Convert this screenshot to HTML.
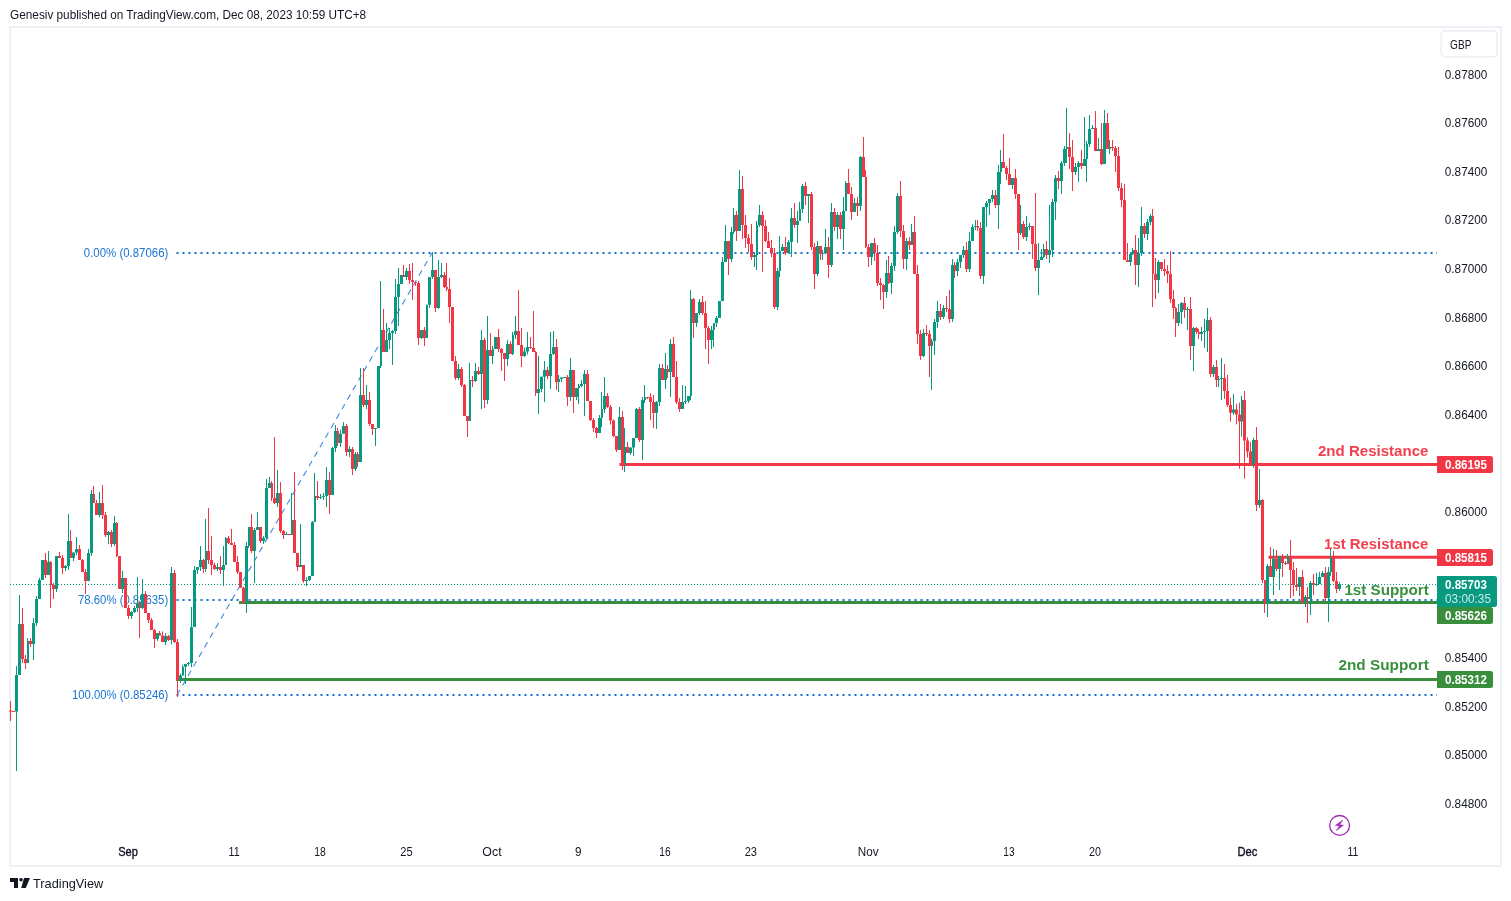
<!DOCTYPE html>
<html><head><meta charset="utf-8"><title>GBP chart</title>
<style>
html,body{margin:0;padding:0;background:#fff;}
body{width:1511px;height:901px;overflow:hidden;position:relative;font-family:"Liberation Sans",sans-serif;}
svg{position:absolute;left:0;top:0;will-change:transform;}
text{font-family:"Liberation Sans",sans-serif;}
.ax{font-size:13px;fill:#131722;}
.tm{font-size:12.8px;fill:#131722;text-anchor:middle;}
.fib{font-size:13px;fill:#1976d2;}
.lab{font-size:15px;font-weight:bold;text-anchor:end;}
.pl{font-size:12.7px;font-weight:bold;fill:#fff;}
</style></head><body>
<svg width="1511" height="901" viewBox="0 0 1511 901">
<rect x="0" y="0" width="1511" height="901" fill="#ffffff"/>
<!-- frame -->
<rect x="10" y="27" width="1491" height="839" fill="none" stroke="#eef0f5" stroke-width="2"/>
<text x="10.1" y="19" font-size="13" fill="#131722" textLength="356" lengthAdjust="spacingAndGlyphs">Genesiv published on TradingView.com, Dec 08, 2023 10:59 UTC+8</text>

<!-- currency box -->
<rect x="1441.2" y="30.9" width="55.8" height="25.9" rx="4" fill="#fff" stroke="#eceef4" stroke-width="1.6"/>
<text x="1450.1" y="48.8" font-size="12.6" fill="#131722" textLength="21.3" lengthAdjust="spacingAndGlyphs">GBP</text>

<!-- price axis -->
<g class="ax">
<text x="1444.8" y="78.5" textLength="42.5" lengthAdjust="spacingAndGlyphs">0.87800</text>
<text x="1444.8" y="127.1" textLength="42.5" lengthAdjust="spacingAndGlyphs">0.87600</text>
<text x="1444.8" y="175.7" textLength="42.5" lengthAdjust="spacingAndGlyphs">0.87400</text>
<text x="1444.8" y="224.4" textLength="42.5" lengthAdjust="spacingAndGlyphs">0.87200</text>
<text x="1444.8" y="273.0" textLength="42.5" lengthAdjust="spacingAndGlyphs">0.87000</text>
<text x="1444.8" y="321.7" textLength="42.5" lengthAdjust="spacingAndGlyphs">0.86800</text>
<text x="1444.8" y="370.3" textLength="42.5" lengthAdjust="spacingAndGlyphs">0.86600</text>
<text x="1444.8" y="418.9" textLength="42.5" lengthAdjust="spacingAndGlyphs">0.86400</text>
<text x="1444.8" y="516.2" textLength="42.5" lengthAdjust="spacingAndGlyphs">0.86000</text>
<text x="1444.8" y="662.1" textLength="42.5" lengthAdjust="spacingAndGlyphs">0.85400</text>
<text x="1444.8" y="710.8" textLength="42.5" lengthAdjust="spacingAndGlyphs">0.85200</text>
<text x="1444.8" y="759.4" textLength="42.5" lengthAdjust="spacingAndGlyphs">0.85000</text>
<text x="1444.8" y="808.1" textLength="42.5" lengthAdjust="spacingAndGlyphs">0.84800</text>
</g>

<!-- time axis -->
<g class="tm">
<text x="128" y="856.1" textLength="19.7" lengthAdjust="spacingAndGlyphs" stroke="#131722" stroke-width="0.4">Sep</text>
<text x="234.1" y="856.1" textLength="11.1" lengthAdjust="spacingAndGlyphs">11</text>
<text x="320.1" y="856.1" textLength="11.6" lengthAdjust="spacingAndGlyphs">18</text>
<text x="406.5" y="856.1" textLength="12.3" lengthAdjust="spacingAndGlyphs">25</text>
<text x="492" y="856.1" textLength="19.3" lengthAdjust="spacingAndGlyphs">Oct</text>
<text x="578.3" y="856.1" textLength="6.5" lengthAdjust="spacingAndGlyphs">9</text>
<text x="664.9" y="856.1" textLength="11.3" lengthAdjust="spacingAndGlyphs">16</text>
<text x="750.8" y="856.1" textLength="12.3" lengthAdjust="spacingAndGlyphs">23</text>
<text x="868.3" y="856.1" textLength="20.9" lengthAdjust="spacingAndGlyphs">Nov</text>
<text x="1009" y="856.1" textLength="11.3" lengthAdjust="spacingAndGlyphs">13</text>
<text x="1095.1" y="856.1" textLength="12.0" lengthAdjust="spacingAndGlyphs">20</text>
<text x="1247.4" y="856.1" textLength="19.9" lengthAdjust="spacingAndGlyphs" stroke="#131722" stroke-width="0.4">Dec</text>
<text x="1353" y="856.1" textLength="10.9" lengthAdjust="spacingAndGlyphs">11</text>
</g>

<!-- fib lines -->
<g stroke="#1570d4" stroke-width="2" stroke-dasharray="2 4" fill="none">
<path d="M176.5 253H1437"/>
<path d="M176.5 600H1437"/>
<path d="M176.5 695H1437"/>
</g>
<path d="M177 695L432 253" stroke="#3f88de" stroke-width="1.1" stroke-dasharray="6 5" fill="none"/>
<g class="fib">
<text x="83.8" y="257.1" textLength="84.5" lengthAdjust="spacingAndGlyphs">0.00% (0.87066)</text>
<text x="78" y="604.2" textLength="90.2" lengthAdjust="spacingAndGlyphs">78.60% (0.85635)</text>
<text x="72" y="699.1" textLength="96.3" lengthAdjust="spacingAndGlyphs">100.00% (0.85246)</text>
</g>

<!-- S/R lines -->
<path d="M619.5 464.5H1437" stroke="#f23645" stroke-width="3"/>
<path d="M1268.5 557.2H1437" stroke="#f23645" stroke-width="3"/>
<path d="M239 602.5H1437" stroke="#388e3c" stroke-width="3"/>
<path d="M176 679.5H1437" stroke="#388e3c" stroke-width="3"/>

<g class="lab">
<text x="1428.4" y="455.8" fill="#f23f4e" textLength="110.4" lengthAdjust="spacingAndGlyphs">2nd Resistance</text>
<text x="1428.4" y="548.9" fill="#f23f4e" textLength="104.3" lengthAdjust="spacingAndGlyphs">1st Resistance</text>
<text x="1428.8" y="594.9" fill="#3a903e" textLength="84.4" lengthAdjust="spacingAndGlyphs">1st Support</text>
<text x="1428.8" y="670.4" fill="#3a903e" textLength="90.4" lengthAdjust="spacingAndGlyphs">2nd Support</text>
</g>

<!-- candles -->
<path d="M16.5 666.0V771.0M19.5 595.0V675.0M27.5 638.0V663.0M33.5 618.0V660.0M36.5 596.0V626.0M39.5 578.0V599.0M42.5 560.0V580.0M48.5 551.0V575.0M56.5 556.0V592.0M65.5 565.0V571.0M68.5 514.0V570.0M73.5 552.4V561.0M76.5 537.0V555.4M88.5 549.0V581.0M91.5 490.0V556.0M99.5 492.0V517.0M108.5 531.0V544.0M114.5 516.0V546.0M122.5 571.0V593.0M131.5 611.0V619.0M134.5 606.0V613.0M137.5 577.0V612.0M142.5 579.0V609.0M157.5 633.0V641.0M165.5 633.0V645.0M171.5 567.0V644.0M180.5 673.6V683.0M182.5 664.8V675.6M185.5 664.0V684.0M188.5 662.0V666.0M191.5 607.0V667.0M194.5 566.0V627.0M197.5 567.0V574.0M200.5 546.0V571.0M205.5 519.0V572.0M217.5 563.0V571.0M223.5 546.0V586.0M225.5 537.0V565.0M246.5 542.0V613.0M248.5 527.0V548.0M254.5 528.0V583.0M257.5 512.0V530.0M263.5 536.0V544.0M266.5 479.0V539.0M269.5 477.0V488.0M277.5 470.0V507.0M286.5 532.0V535.0M291.5 493.0V535.0M300.5 524.0V567.0M306.5 577.0V586.0M309.5 576.0V581.0M312.5 521.0V576.0M314.5 473.0V522.0M320.5 494.0V499.0M323.5 493.0V500.0M326.5 467.0V507.0M332.5 447.0V495.0M335.5 425.0V452.0M340.5 429.7V447.0M343.5 422.0V433.7M349.5 446.0V457.0M355.5 452.0V471.0M360.5 368.0V462.0M366.5 385.0V409.0M375.5 428.0V446.0M378.5 366.0V428.0M380.5 281.0V368.0M386.5 323.0V352.0M389.5 328.0V349.0M392.5 330.0V365.0M395.5 279.0V334.0M398.5 268.0V326.0M401.5 275.0V284.0M406.5 268.0V280.0M421.5 330.0V339.0M426.5 304.8V338.0M429.5 277.0V307.8M432.5 252.0V279.0M438.5 260.0V309.0M441.5 263.0V278.0M458.5 364.0V380.0M469.5 363.0V421.0M475.5 363.0V382.0M481.5 330.0V409.0M487.5 316.0V404.0M492.5 346.0V364.0M495.5 337.0V349.0M507.5 340.0V366.0M512.5 332.0V355.0M515.5 316.0V339.0M524.5 347.5V357.0M527.5 332.0V354.5M538.5 356.0V414.0M541.5 376.7V392.0M544.5 361.0V402.0M550.5 332.0V389.0M553.5 331.0V355.0M558.5 375.0V392.0M561.5 377.6V382.0M564.5 377.0V377.6M570.5 358.0V401.0M576.5 388.0V400.0M578.5 384.0V404.0M581.5 380.0V387.0M584.5 370.0V416.0M599.5 415.0V433.0M601.5 392.0V427.0M604.5 377.0V413.0M619.5 407.0V450.0M624.5 428.0V472.0M630.5 447.5V455.0M633.5 438.0V456.0M636.5 408.0V438.0M642.5 397.0V460.0M644.5 385.0V403.0M656.5 401.0V429.0M659.5 364.0V406.0M665.5 353.0V389.0M670.5 339.0V397.0M682.5 385.0V409.0M685.5 386.0V404.0M688.5 396.0V403.0M690.5 290.0V400.0M696.5 313.0V327.0M699.5 299.0V315.0M711.5 326.0V349.0M713.5 323.0V347.0M716.5 316.0V327.0M719.5 301.0V318.0M722.5 257.0V301.0M725.5 225.0V262.0M731.5 227.0V262.0M733.5 208.0V234.0M739.5 170.0V231.0M754.5 252.0V267.0M756.5 221.0V270.0M759.5 205.0V227.0M777.5 268.0V310.0M779.5 236.0V277.0M782.5 244.0V251.0M788.5 240.0V253.0M791.5 208.0V257.0M797.5 211.0V243.0M799.5 202.0V221.0M802.5 184.0V213.0M808.5 194.0V223.0M817.5 241.0V276.0M822.5 250.0V260.0M825.5 229.0V253.0M831.5 203.0V267.0M837.5 212.0V239.0M843.5 197.0V250.0M845.5 181.0V211.0M854.5 198.0V212.0M860.5 156.0V211.0M871.5 243.0V265.0M886.5 260.0V298.0M891.5 263.0V294.0M894.5 226.0V271.0M897.5 193.0V234.0M906.5 238.0V270.0M911.5 224.0V245.0M923.5 329.0V357.0M931.5 339.0V390.0M934.5 319.0V355.0M937.5 301.0V328.0M943.5 305.0V319.0M952.5 259.0V322.0M957.5 259.0V276.0M960.5 255.0V268.0M963.5 246.0V258.0M969.5 232.0V272.0M972.5 224.0V241.0M975.5 220.0V230.0M983.5 207.0V284.0M986.5 201.0V227.0M989.5 199.0V215.0M992.5 190.0V202.0M998.5 165.0V229.0M1000.5 150.0V184.0M1012.5 178.0V189.0M1020.5 205.0V235.0M1026.5 216.0V241.0M1029.5 223.0V230.0M1038.5 243.0V295.0M1041.5 249.0V260.0M1043.5 244.0V258.0M1049.5 205.0V263.0M1052.5 199.0V257.0M1055.5 175.0V220.0M1061.5 161.0V194.0M1064.5 146.0V166.0M1066.5 108.0V163.0M1075.5 163.0V175.0M1078.5 161.0V182.0M1084.5 117.0V166.0M1086.5 141.0V182.0M1089.5 115.0V147.0M1092.5 125.0V129.0M1098.5 138.0V151.0M1104.5 110.0V164.0M1109.5 140.0V154.0M1130.5 252.0V266.0M1132.5 248.0V255.0M1138.5 238.0V287.0M1141.5 207.0V256.0M1147.5 219.0V240.0M1150.5 214.0V225.0M1158.5 260.0V293.0M1178.5 304.0V326.0M1181.5 302.0V324.0M1187.5 307.0V330.0M1193.5 327.0V371.0M1201.5 327.0V341.0M1204.5 319.0V348.0M1207.5 308.0V352.0M1213.5 365.0V377.0M1218.5 376.0V387.0M1221.5 358.0V400.0M1233.5 393.9V415.0M1241.5 396.0V436.6M1253.5 437.7V467.7M1259.5 469.0V508.0M1267.5 564.0V617.0M1273.5 549.0V595.0M1279.5 556.0V590.0M1287.5 554.0V564.0M1299.5 577.0V596.0M1305.5 595.0V607.0M1310.5 581.0V615.0M1316.5 573.0V586.0M1319.5 572.0V584.0M1322.5 571.0V577.0M1328.5 567.0V622.0M1330.5 549.0V576.0M1339.5 582.0V591.0" stroke="#089981" stroke-width="1" fill="none"/>
<path d="M10.5 701.0V721.0M13.5 711.0V712.0M22.5 608.0V663.0M25.5 655.0V669.0M30.5 638.0V647.0M45.5 553.0V578.0M50.5 561.0V608.0M53.5 583.0V599.0M59.5 552.0V558.0M62.5 555.0V574.0M70.5 530.0V558.0M79.5 545.0V560.0M82.5 559.0V572.0M85.5 569.0V594.0M93.5 486.0V503.0M96.5 500.0V515.0M102.5 485.0V519.0M105.5 512.0V537.0M111.5 530.0V547.0M116.5 522.0V557.0M119.5 556.0V589.0M125.5 578.0V608.0M128.5 605.0V619.0M139.5 601.0V638.0M145.5 591.0V613.0M148.5 613.0V623.0M151.5 618.0V630.0M154.5 629.0V648.0M159.5 631.0V635.4M162.5 631.4V642.0M168.5 635.0V641.0M174.5 570.0V643.0M177.5 639.0V697.0M203.5 559.0V573.0M208.5 508.0V564.0M211.5 536.0V575.0M214.5 563.0V570.0M220.5 556.0V574.0M228.5 536.0V544.0M231.5 529.0V545.0M234.5 542.0V562.0M237.5 556.0V574.0M240.5 572.0V587.7M243.5 586.7V603.0M251.5 514.0V553.0M260.5 527.0V543.0M271.5 481.0V501.0M274.5 437.0V504.0M280.5 482.0V533.0M283.5 530.0V539.0M289.5 534.0V535.0M294.5 472.0V553.0M297.5 553.0V571.0M303.5 565.0V583.0M317.5 481.0V500.0M329.5 472.0V514.0M337.5 428.0V446.0M346.5 424.0V456.0M352.5 447.0V475.0M357.5 452.0V467.0M363.5 368.0V407.0M369.5 392.0V426.0M372.5 424.0V435.0M383.5 309.0V352.0M403.5 265.0V277.0M409.5 264.0V284.0M412.5 263.0V300.0M415.5 282.0V286.0M418.5 281.0V345.0M424.5 327.0V346.0M435.5 270.0V312.0M444.5 272.0V288.0M446.5 263.0V291.0M449.5 278.0V323.0M452.5 307.0V361.0M455.5 356.0V380.0M461.5 367.0V387.0M464.5 384.0V416.0M467.5 416.0V437.0M472.5 376.0V387.0M478.5 367.0V375.0M484.5 338.0V408.0M490.5 333.0V356.0M498.5 329.0V352.0M501.5 348.0V371.0M504.5 353.0V381.0M510.5 341.0V354.0M518.5 290.0V345.0M521.5 328.0V367.0M530.5 337.0V349.0M533.5 311.0V352.0M535.5 351.0V396.0M547.5 367.0V379.0M556.5 339.0V390.0M567.5 375.0V406.0M573.5 370.0V413.0M587.5 370.0V401.0M590.5 401.0V421.0M593.5 418.0V432.0M596.5 427.0V438.0M607.5 393.0V407.9M610.5 404.9V424.5M613.5 419.5V437.0M616.5 436.0V452.0M622.5 411.0V470.0M627.5 442.0V453.0M639.5 407.0V442.0M647.5 397.0V399.2M650.5 393.2V420.0M653.5 395.0V428.0M662.5 364.0V380.0M667.5 365.0V378.0M673.5 337.0V377.0M676.5 361.0V404.0M679.5 398.0V412.0M693.5 298.0V338.0M702.5 296.0V315.0M705.5 301.0V349.0M708.5 326.0V364.0M728.5 241.0V275.0M736.5 211.0V241.0M742.5 176.0V239.0M745.5 215.0V248.0M748.5 234.0V252.0M751.5 224.0V260.0M762.5 211.0V272.0M765.5 220.0V242.0M768.5 232.0V248.0M771.5 240.0V257.0M774.5 248.0V309.0M785.5 237.0V255.0M794.5 203.0V228.0M805.5 182.0V205.0M811.5 192.0V250.0M814.5 243.0V289.0M820.5 246.0V260.0M828.5 237.0V278.0M834.5 208.0V231.0M840.5 212.0V239.0M848.5 169.0V194.0M851.5 187.0V220.0M857.5 197.0V216.0M863.5 137.0V177.0M865.5 170.0V248.0M868.5 244.0V267.0M874.5 238.0V261.0M877.5 245.0V286.0M880.5 278.0V300.0M883.5 284.0V309.0M888.5 256.0V284.0M900.5 181.0V237.0M903.5 225.0V269.0M909.5 237.0V250.0M914.5 216.0V274.0M917.5 265.0V344.0M920.5 330.0V360.0M926.5 325.0V336.0M929.5 330.0V377.0M940.5 304.0V320.0M946.5 296.0V312.0M949.5 290.0V323.0M954.5 262.0V278.0M966.5 242.0V272.0M977.5 220.0V231.0M980.5 222.0V279.0M995.5 190.0V208.0M1003.5 134.0V168.0M1006.5 166.0V180.0M1009.5 158.0V185.0M1015.5 169.0V199.0M1018.5 194.0V250.0M1023.5 221.0V239.0M1032.5 226.0V259.0M1035.5 193.0V271.0M1046.5 241.0V259.0M1058.5 171.0V189.0M1069.5 133.0V169.0M1072.5 140.0V191.0M1081.5 150.0V169.0M1095.5 111.0V151.0M1101.5 123.0V165.0M1107.5 113.0V149.0M1112.5 140.0V151.0M1115.5 146.0V172.0M1118.5 147.0V191.0M1121.5 183.0V207.0M1124.5 184.0V260.0M1127.5 243.0V262.0M1135.5 235.0V285.0M1144.5 223.0V238.0M1152.5 209.0V307.0M1155.5 258.0V299.0M1161.5 262.0V271.0M1164.5 259.0V276.0M1167.5 265.0V283.0M1170.5 251.0V303.0M1173.5 290.0V319.0M1175.5 307.0V337.0M1184.5 297.0V318.0M1190.5 297.0V360.0M1196.5 327.0V334.0M1198.5 329.0V339.0M1210.5 317.0V377.0M1216.5 360.0V387.0M1224.5 364.0V399.0M1227.5 375.0V407.0M1230.5 397.7V421.6M1236.5 403.8V424.4M1239.5 402.7V468.7M1244.5 391.0V478.7M1247.5 437.4V457.6M1250.5 442.0V463.7M1256.5 427.0V511.0M1262.5 499.0V583.0M1264.5 580.0V613.0M1270.5 547.0V577.0M1276.5 550.0V571.0M1282.5 554.0V577.0M1285.5 561.0V565.0M1290.5 540.0V598.0M1293.5 562.0V596.0M1296.5 568.0V591.0M1302.5 570.0V604.0M1307.5 587.0V623.0M1313.5 574.0V595.0M1325.5 567.0V601.0M1333.5 551.0V582.0M1336.5 572.0V593.0" stroke="#f23645" stroke-width="1" fill="none"/>
<path d="M15 675.0H18V711.6H15zM18 624.0H21V675.0H18zM27 641.0H29V663.0H27zM32 623.0H35V644.0H32zM35 599.0H38V623.0H35zM38 580.0H41V599.0H38zM41 560.0H44V580.0H41zM47 562.0H50V575.0H47zM55 556.0H58V589.0H55zM64 566.0H67V568.0H64zM67 541.0H70V566.0H67zM72 552.4H75V558.0H72zM75 549.0H78V552.4H75zM87 553.0H90V581.0H87zM90 494.0H93V553.0H90zM98 503.0H101V515.0H98zM107 532.0H110V535.0H107zM113 523.0H116V544.0H113zM121 578.0H124V589.0H121zM130 612.0H133V616.0H130zM133 608.0H136V612.0H133zM136 603.0H139V608.0H136zM141 594.0H144V608.0H141zM156 633.0H159V639.0H156zM164 636.0H167V642.0H164zM170 573.0H173V640.0H170zM179 675.6H182V680.0H179zM182 666.8H184V675.6H182zM184 664.0H187V666.8H184zM187 663.0H190V664.0H187zM190 627.0H193V663.0H190zM193 570.0H196V627.0H193zM196 567.0H199V570.0H196zM199 560.0H202V567.0H199zM205 551.0H207V569.0H205zM216 567.0H219V569.0H216zM222 565.0H225V570.0H222zM225 538.0H227V565.0H225zM245 546.0H248V603.0H245zM248 527.0H250V546.0H248zM253 530.0H256V551.0H253zM256 527.0H259V530.0H256zM262 538.0H265V541.0H262zM265 488.0H268V538.0H265zM268 483.0H271V488.0H268zM276 493.0H279V503.0H276zM285 534.0H288V535.0H285zM291 520.0H293V535.0H291zM299 565.0H302V567.0H299zM305 580.0H308V581.0H305zM308 576.0H311V580.0H308zM311 522.0H314V576.0H311zM314 496.0H316V522.0H314zM319 497.0H322V498.0H319zM322 496.0H325V497.0H322zM325 480.0H328V496.0H325zM331 448.0H334V495.0H331zM334 431.0H337V448.0H334zM339 433.7H342V443.0H339zM342 426.0H345V433.7H342zM348 449.0H351V452.0H348zM354 454.0H357V469.0H354zM359 395.0H362V462.0H359zM365 400.0H368V405.0H365zM374 428.0H377V429.0H374zM377 366.0H380V428.0H377zM380 330.0H382V366.0H380zM385 340.0H388V352.0H385zM388 333.0H391V340.0H388zM391 331.0H394V333.0H391zM394 297.0H397V331.0H394zM397 284.0H400V297.0H397zM400 275.0H403V284.0H400zM405 271.0H408V277.0H405zM420 330.0H423V338.0H420zM426 304.8H428V338.0H426zM428 277.0H431V304.8H428zM431 270.0H434V277.0H431zM437 277.0H440V308.0H437zM440 275.0H443V277.0H440zM457 369.0H460V378.0H457zM469 380.0H471V421.0H469zM474 371.0H477V381.0H474zM480 340.0H483V374.0H480zM486 350.0H489V400.0H486zM492 349.0H494V356.0H492zM494 337.0H497V349.0H494zM506 344.0H509V359.0H506zM512 335.0H514V354.0H512zM514 331.0H517V335.0H514zM523 351.5H526V356.0H523zM526 347.0H529V351.5H526zM537 389.0H540V393.0H537zM540 376.7H543V389.0H540zM543 370.0H546V376.7H543zM549 354.0H552V376.0H549zM552 347.0H555V354.0H552zM558 379.0H560V382.0H558zM560 377.6H563V379.0H560zM563 377.0H566V378.0H563zM569 370.0H572V397.0H569zM575 388.0H578V397.0H575zM578 386.0H580V388.0H578zM580 384.0H583V386.0H580zM583 374.0H586V384.0H583zM598 418.0H601V433.0H598zM601 409.0H603V418.0H601zM603 396.0H606V409.0H603zM618 417.0H621V450.0H618zM624 447.0H626V463.0H624zM629 447.5H632V453.0H629zM632 438.0H635V447.5H632zM635 409.0H638V438.0H635zM641 400.0H644V440.0H641zM644 397.0H646V400.0H644zM655 402.0H658V413.0H655zM658 368.0H661V402.0H658zM664 369.0H667V380.0H664zM669 344.0H672V372.0H669zM681 402.0H684V409.0H681zM684 401.0H687V402.0H684zM687 396.0H690V401.0H687zM690 299.0H692V396.0H690zM695 313.0H698V323.0H695zM698 302.0H701V313.0H698zM710 330.0H713V340.0H710zM713 323.0H715V330.0H713zM715 318.0H718V323.0H715zM718 301.0H721V318.0H718zM721 262.0H724V301.0H721zM724 241.0H727V262.0H724zM730 232.0H733V259.0H730zM733 215.0H735V232.0H733zM738 189.0H741V231.0H738zM753 255.0H756V257.0H753zM756 225.0H758V255.0H756zM758 215.0H761V225.0H758zM776 271.0H779V307.0H776zM779 251.0H781V271.0H779zM781 247.0H784V251.0H781zM787 242.0H790V253.0H787zM790 218.0H793V242.0H790zM796 221.0H799V225.0H796zM799 209.0H801V221.0H799zM801 186.0H804V209.0H801zM807 194.0H810V196.0H807zM816 246.0H819V274.0H816zM822 253.0H824V254.0H822zM824 247.0H827V253.0H824zM830 212.0H833V265.0H830zM836 215.0H839V227.0H836zM842 211.0H845V229.0H842zM845 183.0H847V211.0H845zM853 203.0H856V212.0H853zM859 157.0H862V206.0H859zM870 243.0H873V257.0H870zM885 273.0H888V292.0H885zM890 266.0H893V283.0H890zM893 232.0H896V266.0H893zM896 196.0H899V232.0H896zM905 241.0H908V259.0H905zM911 232.0H913V245.0H911zM922 333.0H925V356.0H922zM931 341.0H933V346.0H931zM933 322.0H936V341.0H933zM936 311.0H939V322.0H936zM942 308.0H945V317.0H942zM951 265.0H954V319.0H951zM956 262.0H959V271.0H956zM959 255.0H962V262.0H959zM962 250.0H965V255.0H962zM968 241.0H971V269.0H968zM971 227.0H974V241.0H971zM974 226.0H977V227.0H974zM982 207.0H985V276.0H982zM985 203.0H988V207.0H985zM988 199.0H991V203.0H988zM991 195.0H994V199.0H991zM997 172.0H1000V205.0H997zM1000 162.0H1002V172.0H1000zM1011 178.0H1014V185.0H1011zM1020 224.0H1022V233.0H1020zM1025 227.0H1028V237.0H1025zM1028 226.0H1031V227.0H1028zM1037 260.0H1040V268.0H1037zM1040 257.0H1043V260.0H1040zM1043 249.0H1045V257.0H1043zM1048 250.0H1051V255.0H1048zM1051 202.0H1054V250.0H1051zM1054 178.0H1057V202.0H1054zM1060 163.0H1063V181.0H1060zM1063 149.0H1066V163.0H1063zM1066 147.0H1068V149.0H1066zM1074 167.0H1077V172.0H1074zM1077 163.0H1080V167.0H1077zM1083 159.0H1086V166.0H1083zM1086 144.0H1088V159.0H1086zM1088 129.0H1091V144.0H1088zM1091 128.0H1094V129.0H1091zM1097 149.0H1100V151.0H1097zM1103 123.0H1106V164.0H1103zM1109 147.0H1111V149.0H1109zM1129 254.0H1132V262.0H1129zM1132 250.0H1134V254.0H1132zM1137 253.0H1140V265.0H1137zM1140 226.0H1143V253.0H1140zM1146 222.0H1149V234.0H1146zM1149 216.0H1152V222.0H1149zM1157 262.0H1160V280.0H1157zM1177 312.0H1180V323.0H1177zM1180 303.0H1183V312.0H1180zM1186 309.0H1189V310.0H1186zM1192 328.0H1195V346.0H1192zM1200 332.0H1203V334.0H1200zM1203 331.0H1206V332.0H1203zM1206 320.0H1209V331.0H1206zM1212 367.0H1215V374.0H1212zM1218 379.0H1220V380.0H1218zM1220 378.0H1223V379.0H1220zM1232 409.4H1235V412.7H1232zM1241 400.0H1243V421.6H1241zM1252 439.9H1255V463.7H1252zM1258 500.0H1261V505.0H1258zM1266 566.0H1269V604.0H1266zM1272 559.0H1275V577.0H1272zM1278 556.0H1281V569.0H1278zM1287 556.0H1289V564.0H1287zM1298 577.0H1301V587.0H1298zM1304 597.0H1307V602.0H1304zM1309 583.0H1312V599.0H1309zM1315 584.0H1318V585.0H1315zM1318 577.0H1321V584.0H1318zM1321 573.0H1324V577.0H1321zM1327 572.0H1330V598.0H1327zM1330 558.0H1332V572.0H1330zM1338 584.0H1341V589.0H1338z" fill="#089981"/>
<path d="M9 710.4H12V711.4H9zM12 711.0H15V712.0H12zM21 624.0H24V659.0H21zM24 659.0H27V663.0H24zM29 641.0H32V644.0H29zM44 560.0H47V575.0H44zM50 562.0H52V585.0H50zM52 585.0H55V589.0H52zM58 556.0H61V558.0H58zM61 558.0H64V568.0H61zM70 541.0H72V558.0H70zM78 549.0H81V560.0H78zM81 560.0H84V572.0H81zM84 572.0H87V581.0H84zM93 494.0H95V503.0H93zM95 503.0H98V515.0H95zM101 503.0H104V515.0H101zM104 515.0H107V535.0H104zM110 532.0H113V544.0H110zM116 523.0H118V556.0H116zM118 556.0H121V589.0H118zM124 578.0H127V608.0H124zM127 608.0H130V616.0H127zM139 603.0H141V608.0H139zM144 594.0H147V613.0H144zM147 613.0H150V620.0H147zM150 620.0H153V630.0H150zM153 630.0H156V639.0H153zM159 633.0H161V635.4H159zM161 635.4H164V642.0H161zM167 636.0H170V640.0H167zM173 573.0H176V642.0H173zM176 642.0H179V680.0H176zM202 560.0H205V569.0H202zM207 551.0H210V560.0H207zM210 560.0H213V565.0H210zM213 565.0H216V569.0H213zM219 567.0H222V570.0H219zM227 538.0H230V543.0H227zM230 543.0H233V545.0H230zM233 545.0H236V562.0H233zM236 562.0H239V572.0H236zM239 572.0H242V587.7H239zM242 587.7H245V603.0H242zM250 527.0H253V551.0H250zM259 527.0H262V541.0H259zM271 483.0H273V498.0H271zM273 498.0H276V503.0H273zM279 493.0H282V531.0H279zM282 531.0H285V535.0H282zM288 534.0H291V535.0H288zM293 520.0H296V553.0H293zM296 553.0H299V567.0H296zM302 565.0H305V581.0H302zM316 496.0H319V498.0H316zM328 480.0H331V495.0H328zM337 431.0H339V443.0H337zM345 426.0H348V452.0H345zM351 449.0H354V469.0H351zM357 454.0H359V462.0H357zM362 395.0H365V405.0H362zM368 400.0H371V424.0H368zM371 424.0H374V429.0H371zM382 330.0H385V352.0H382zM403 275.0H405V277.0H403zM408 271.0H411V280.0H408zM411 280.0H414V282.0H411zM414 282.0H417V283.0H414zM417 283.0H420V338.0H417zM423 330.0H426V338.0H423zM434 270.0H437V308.0H434zM443 275.0H446V287.0H443zM446 287.0H448V289.0H446zM448 289.0H451V307.0H448zM451 307.0H454V361.0H451zM454 361.0H457V378.0H454zM460 369.0H463V385.0H460zM463 385.0H466V416.0H463zM466 416.0H469V421.0H466zM471 380.0H474V381.0H471zM477 371.0H480V374.0H477zM483 340.0H486V400.0H483zM489 350.0H492V356.0H489zM497 337.0H500V349.0H497zM500 349.0H503V353.0H500zM503 353.0H506V359.0H503zM509 344.0H512V354.0H509zM517 331.0H520V345.0H517zM520 345.0H523V356.0H520zM529 347.0H532V348.0H529zM532 348.0H535V352.0H532zM535 352.0H537V393.0H535zM546 370.0H549V376.0H546zM555 347.0H558V382.0H555zM566 377.0H569V397.0H566zM572 370.0H575V397.0H572zM586 374.0H589V401.0H586zM589 401.0H592V420.0H589zM592 420.0H595V428.0H592zM595 428.0H598V433.0H595zM606 396.0H609V406.9H606zM609 406.9H612V420.5H609zM612 420.5H615V436.0H612zM615 436.0H618V450.0H615zM621 417.0H624V463.0H621zM626 447.0H629V453.0H626zM638 409.0H641V440.0H638zM646 397.0H649V398.0H646zM649 397.2H652V402.0H649zM652 402.0H655V413.0H652zM661 368.0H664V380.0H661zM667 369.0H669V372.0H667zM672 344.0H675V377.0H672zM675 377.0H678V402.0H675zM678 402.0H681V409.0H678zM692 299.0H695V323.0H692zM701 302.0H704V313.0H701zM704 313.0H707V328.0H704zM707 328.0H710V340.0H707zM727 241.0H730V259.0H727zM735 215.0H738V231.0H735zM741 189.0H744V225.0H741zM744 225.0H747V238.0H744zM747 238.0H750V244.0H747zM750 244.0H753V257.0H750zM761 215.0H764V226.0H761zM764 226.0H767V241.0H764zM767 241.0H770V248.0H767zM770 248.0H773V253.0H770zM773 253.0H776V307.0H773zM784 247.0H787V253.0H784zM793 218.0H796V225.0H793zM804 186.0H807V196.0H804zM810 194.0H813V247.0H810zM813 247.0H816V274.0H813zM819 246.0H822V254.0H819zM827 247.0H830V265.0H827zM833 212.0H836V227.0H833zM839 215.0H842V229.0H839zM847 183.0H850V194.0H847zM850 194.0H853V212.0H850zM856 203.0H859V206.0H856zM862 157.0H865V177.0H862zM865 177.0H867V247.0H865zM867 247.0H870V257.0H867zM873 243.0H876V253.0H873zM876 253.0H879V283.0H876zM879 283.0H882V285.0H879zM882 285.0H885V292.0H882zM888 273.0H890V283.0H888zM899 196.0H902V231.0H899zM902 231.0H905V259.0H902zM908 241.0H911V245.0H908zM913 232.0H916V274.0H913zM916 274.0H919V334.0H916zM919 334.0H922V356.0H919zM925 333.0H928V334.0H925zM928 334.0H931V346.0H928zM939 311.0H942V317.0H939zM945 308.0H948V309.0H945zM948 309.0H951V319.0H948zM954 265.0H956V271.0H954zM965 250.0H968V269.0H965zM977 226.0H979V228.0H977zM979 228.0H982V276.0H979zM994 195.0H997V205.0H994zM1002 162.0H1005V168.0H1002zM1005 168.0H1008V174.0H1005zM1008 174.0H1011V185.0H1008zM1014 178.0H1017V194.0H1014zM1017 194.0H1020V233.0H1017zM1022 224.0H1025V237.0H1022zM1031 226.0H1034V244.0H1031zM1034 244.0H1037V268.0H1034zM1045 249.0H1048V255.0H1045zM1057 178.0H1060V181.0H1057zM1068 147.0H1071V157.0H1068zM1071 157.0H1074V172.0H1071zM1080 163.0H1083V166.0H1080zM1094 128.0H1097V151.0H1094zM1100 149.0H1103V164.0H1100zM1106 123.0H1109V149.0H1106zM1111 147.0H1114V148.0H1111zM1114 148.0H1117V156.0H1114zM1117 156.0H1120V188.0H1117zM1120 188.0H1123V200.0H1120zM1123 200.0H1126V260.0H1123zM1126 260.0H1129V262.0H1126zM1134 250.0H1137V265.0H1134zM1143 226.0H1146V234.0H1143zM1152 216.0H1154V274.0H1152zM1154 274.0H1157V280.0H1154zM1160 262.0H1163V269.0H1160zM1163 269.0H1166V271.0H1163zM1166 271.0H1169V274.0H1166zM1169 274.0H1172V299.0H1169zM1172 299.0H1175V308.0H1172zM1175 308.0H1177V323.0H1175zM1183 303.0H1186V310.0H1183zM1189 309.0H1192V346.0H1189zM1195 328.0H1198V332.0H1195zM1198 332.0H1200V334.0H1198zM1209 320.0H1212V374.0H1209zM1215 367.0H1218V380.0H1215zM1223 378.0H1226V391.0H1223zM1226 391.0H1229V405.0H1226zM1229 405.0H1232V412.7H1229zM1235 409.4H1238V414.4H1235zM1238 414.4H1241V421.6H1238zM1243 400.0H1246V440.4H1243zM1246 440.4H1249V451.5H1246zM1249 451.5H1252V463.7H1249zM1255 439.9H1258V505.0H1255zM1261 500.0H1264V580.0H1261zM1264 580.0H1266V604.0H1264zM1269 566.0H1272V577.0H1269zM1275 559.0H1278V569.0H1275zM1281 556.0H1284V563.0H1281zM1284 563.0H1287V564.0H1284zM1289 556.0H1292V570.0H1289zM1292 570.0H1295V585.0H1292zM1295 585.0H1298V587.0H1295zM1301 577.0H1304V602.0H1301zM1307 597.0H1309V599.0H1307zM1312 583.0H1315V585.0H1312zM1324 573.0H1327V598.0H1324zM1332 558.0H1335V581.0H1332zM1335 581.0H1338V589.0H1335z" fill="#f23645"/>

<!-- current price dotted line -->
<path d="M10 584.5H1437" stroke="#089981" stroke-width="1" stroke-dasharray="1 2" fill="none"/>

<!-- price labels -->
<path d="M1437 456H1490.5a2.5 2.5 0 0 1 2.5 2.5V470.5a2.5 2.5 0 0 1 -2.5 2.5H1437Z" fill="#f23645"/>
<text x="1445" y="468.8" class="pl" textLength="41.9" lengthAdjust="spacingAndGlyphs">0.86195</text>
<path d="M1437 549H1490.5a2.5 2.5 0 0 1 2.5 2.5V563.5a2.5 2.5 0 0 1 -2.5 2.5H1437Z" fill="#f23645"/>
<text x="1445" y="561.8" class="pl" textLength="41.9" lengthAdjust="spacingAndGlyphs">0.85815</text>
<path d="M1437 576H1494.5a2.5 2.5 0 0 1 2.5 2.5V604.5a2.5 2.5 0 0 1 -2.5 2.5H1437Z" fill="#089981"/>
<text x="1445" y="589.0" class="pl" textLength="41.9" lengthAdjust="spacingAndGlyphs">0.85703</text>
<text x="1445" y="603.0" font-size="12" fill="#fff" fill-opacity="0.8" textLength="46" lengthAdjust="spacingAndGlyphs">03:00:35</text>
<path d="M1437 607H1490.5a2.5 2.5 0 0 1 2.5 2.5V621.5a2.5 2.5 0 0 1 -2.5 2.5H1437Z" fill="#388e3c"/>
<text x="1445" y="619.8" class="pl" textLength="41.9" lengthAdjust="spacingAndGlyphs">0.85626</text>
<path d="M1437 671H1490.5a2.5 2.5 0 0 1 2.5 2.5V685.5a2.5 2.5 0 0 1 -2.5 2.5H1437Z" fill="#388e3c"/>
<text x="1445" y="683.8" class="pl" textLength="41.9" lengthAdjust="spacingAndGlyphs">0.85312</text>

<!-- lightning icon -->
<g transform="translate(1339.6 825.4)">
<circle r="9.9" fill="#fff" stroke="#9c27b0" stroke-width="1.3"/>
<path d="M3.2 -5.3L-4.3 0.1L-0.1 0.45L-3.4 5.3L3.9 -0.2L0.1 -0.6Z" fill="#9c27b0" stroke="#9c27b0" stroke-width="0.5" stroke-linejoin="round"/>
</g>

<!-- TradingView logo -->
<g fill="#131722">
<path d="M10 878H18V888H14V882H10Z"/>
<circle cx="21" cy="879.7" r="1.8"/>
<path d="M24 878H30L25.8 888H21.2Z"/>
</g>
<text x="33" y="887.8" font-size="13" fill="#131722" textLength="70.3" lengthAdjust="spacingAndGlyphs">TradingView</text>
</svg>
</body></html>
